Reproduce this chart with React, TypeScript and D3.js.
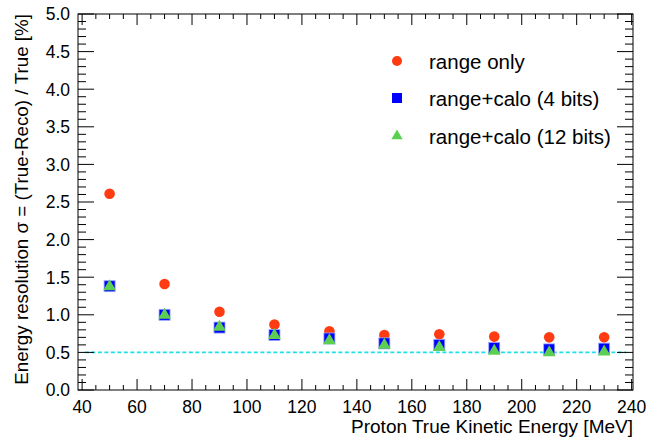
import * as d3 from 'd3';

const energies = [50, 70, 90, 110, 130, 150, 170, 190, 210, 230];
const rangeOnly = [2.61, 1.41, 1.04, 0.87, 0.78, 0.73, 0.74, 0.71, 0.7, 0.7];
const calo4 = [1.38, 1.0, 0.83, 0.73, 0.685, 0.62, 0.6, 0.56, 0.54, 0.55];
const calo12 = [1.39, 1.01, 0.85, 0.74, 0.67, 0.61, 0.58, 0.53, 0.51, 0.52];
const xTickLabels = [40, 60, 80, 100, 120, 140, 160, 180, 200, 220, 240];
const yTickLabels = ['0.0', '0.5', '1.0', '1.5', '2.0', '2.5', '3.0', '3.5', '4.0', '4.5', '5.0'];
const legendLabels = ['range only', 'range+calo (4 bits)', 'range+calo (12 bits)'];
const refLevel = 0.5;

const W = 646;
const H = 439;
const FONT = '"Liberation Sans", Arial, sans-serif';
const RED = '#ff3b12';
const BLUE = '#0000ff';
const GREEN = '#5ccf52';

export default function App() {
  const frame = { left: 78, right: 633, top: 14, bottom: 390 };
  const x = d3.scaleLinear().domain([38.5, 240.5]).range([frame.left, frame.right]);
  const y = d3.scaleLinear().domain([0, 5]).range([frame.bottom, frame.top]);

  const xMinor = d3.range(40, 241, 5);
  const yMinor = d3.range(0, 50.5, 1).map((v) => v / 10);

  const tri = d3.symbol().type(d3.symbolTriangle).size(70);
  const triSmall = d3.symbol().type(d3.symbolTriangle).size(55);

  return (
    <div style={{ position: 'absolute', left: 0, top: 0 }}>
      <svg width={W} height={H} style={{ display: 'block', background: '#fff' }} fontFamily={FONT}>
        {/* reference line */}
        <line
          x1={x(41)}
          x2={x(238)}
          y1={y(refLevel)}
          y2={y(refLevel)}
          stroke="#1fe0e8"
          strokeWidth={1.6}
          strokeDasharray="4,2.5"
        />

        {/* frame */}
        <rect
          x={frame.left}
          y={frame.top}
          width={frame.right - frame.left}
          height={frame.bottom - frame.top}
          fill="none"
          stroke="#000"
          strokeWidth={1}
        />

        {/* x ticks bottom + top */}
        {xMinor.map((v) => {
          const major = v % 20 === 0;
          const len = major ? 11 : 5;
          return (
            <g key={'xt' + v} stroke="#000" strokeWidth={1}>
              <line x1={x(v)} x2={x(v)} y1={frame.bottom} y2={frame.bottom - len} />
              <line x1={x(v)} x2={x(v)} y1={frame.top} y2={frame.top + len} />
            </g>
          );
        })}
        {/* y ticks left + right */}
        {yMinor.map((v, i) => {
          const major = i % 5 === 0;
          const len = major ? 16 : 8;
          return (
            <g key={'yt' + i} stroke="#000" strokeWidth={1}>
              <line x1={frame.left} x2={frame.left + len} y1={y(v)} y2={y(v)} />
              <line x1={frame.right} x2={frame.right - len} y1={y(v)} y2={y(v)} />
            </g>
          );
        })}

        {xTickLabels.map((v) => (
          <text key={'xl' + v} x={x(v)} y={413} textAnchor="middle" fontSize={17.5} fill="#000">
            {v}
          </text>
        ))}
        {yTickLabels.map((t) => (
          <text key={'yl' + t} x={70} y={y(+t) + 6.3} textAnchor="end" fontSize={17.5} fill="#000">
            {t}
          </text>
        ))}

        <text x={frame.right} y={433} textAnchor="end" fontSize={19} fill="#000">
          Proton True Kinetic Energy [MeV]
        </text>
        <text
          transform={`translate(28, ${frame.top}) rotate(-90)`}
          textAnchor="end"
          fontSize={18.8}
          fill="#000"
        >
          Energy resolution σ = (True-Reco) / True [%]
        </text>

        {/* data */}
        {energies.map((e, i) => (
          <circle key={'r' + e} cx={x(e)} cy={y(rangeOnly[i])} r={5.3} fill={RED} />
        ))}
        {energies.map((e, i) => (
          <rect
            key={'b' + e}
            x={x(e) - 5.5}
            y={y(calo4[i]) - 5.5}
            width={11}
            height={11}
            fill={BLUE}
            stroke="#9aa8ff"
            strokeWidth={0.8}
          />
        ))}
        {energies.map((e, i) => (
          <path
            key={'g' + e}
            d={tri() as string}
            transform={`translate(${x(e)}, ${y(calo12[i]) + 1})`}
            fill={GREEN}
          />
        ))}

        {/* legend */}
        <g>
          <circle cx={397} cy={61} r={5} fill={RED} />
          <rect x={392} y={93} width={10} height={10} fill={BLUE} />
          <path d={triSmall() as string} transform="translate(397, 136)" fill={GREEN} />
          {legendLabels.map((l, i) => (
            <text key={l} x={429} y={68.5 + i * 37.5} fontSize={20.5} fill="#000">
              {l}
            </text>
          ))}
        </g>
      </svg>
    </div>
  );
}
